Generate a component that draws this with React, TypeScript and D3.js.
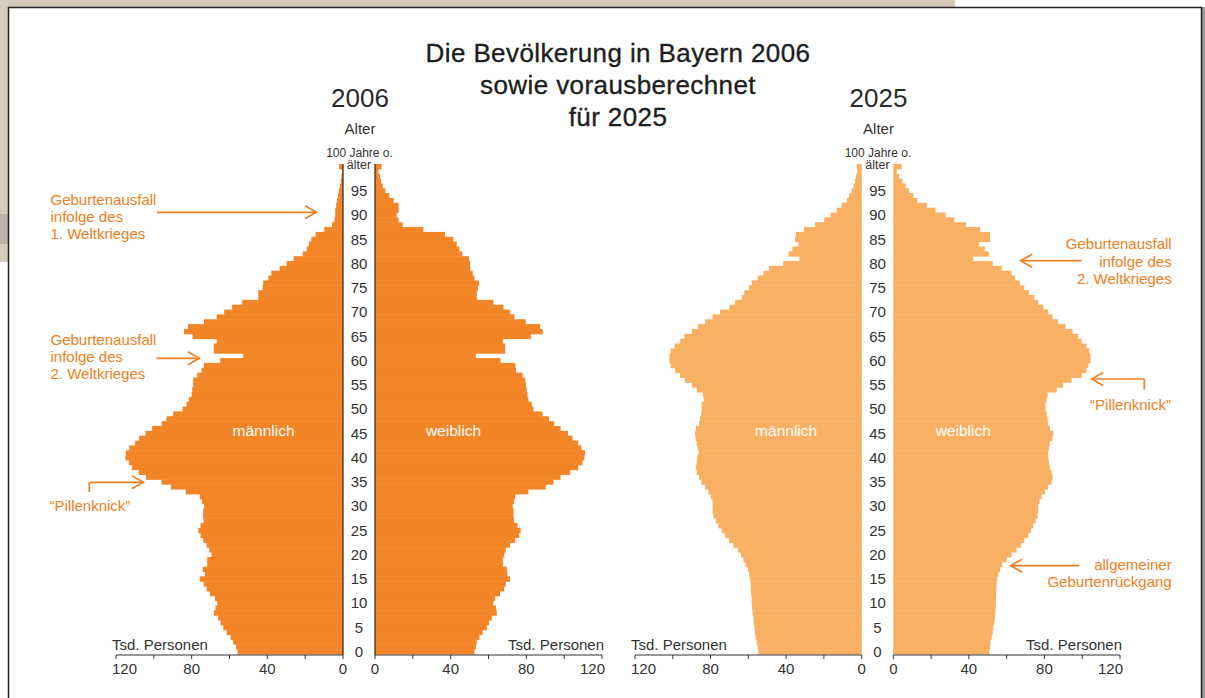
import React from 'react';
import * as d3 from 'd3';

// values in Tsd. Personen, index = age 0 .. 100 (100 = "100 Jahre o. älter")
const MALE_2006 = [
  55.7, 56.6, 58, 59.4, 61.5, 63.3, 64.7, 66, 68.3, 67.4,
  66.5, 67.7, 70.4, 72.1, 73.7, 75.7, 73, 74.2, 71.8, 71.8,
  69.5, 70.7, 72.1, 73.9, 75.3, 76.5, 75.3, 73.7, 73.9, 73.9,
  73.4, 74.6, 75.7, 83.1, 91, 95.9, 104.2, 108, 111.6, 113.2,
  115, 114.8, 113, 109.9, 107.8, 104.4, 100.9, 95.9, 93.3, 89.8,
  84.8, 82.7, 81.5, 80, 79.7, 79.2, 79.2, 77.1, 74.8, 73.5,
  64.9, 52.8, 68.3, 68.3, 66.8, 79.5, 84.1, 82, 73.5, 66.8,
  62.8, 58.6, 53.3, 44.8, 44.8, 42.5, 42.2, 39.5, 37.9, 33.5,
  29.8, 26.1, 21.3, 19.2, 18, 16.8, 14.5, 9.9, 5.8, 4.5,
  4.1, 4.1, 3.6, 3.2, 2.6, 2.2, 1.6, 1.2, 0.8, 0.5, 2,
];
const FEMALE_2006 = [
  52.6, 53.3, 53.8, 55.2, 56.9, 59.1, 60.3, 61.7, 64.4, 64,
  62.6, 63.5, 66.1, 68.3, 69.1, 71.4, 70, 69.7, 67.6, 67.6,
  68.3, 69.1, 71.4, 74.1, 76.2, 77, 75.3, 73.5, 73.2, 73.2,
  72.8, 73.5, 74.1, 81.1, 90.3, 94.4, 98.1, 103.2, 107.4, 109.7,
  110.7, 111, 109.2, 107.4, 104.4, 102, 98.1, 94.7, 92, 88.5,
  83.8, 82.9, 81.1, 80.6, 80.2, 79.9, 79.4, 78, 74.6, 74.2,
  66.3, 53.3, 68.8, 68.8, 67.6, 82.4, 88.7, 87.3, 79.7, 73.7,
  71.4, 67.9, 62.6, 53.8, 53.8, 54.5, 55, 52.6, 51.7, 50.3,
  50.3, 49.7, 46.2, 44.6, 43.2, 41.4, 37, 25.6, 14.6, 12.5,
  11.5, 12.5, 12.5, 9.9, 7.6, 5.5, 4.1, 3.2, 2.6, 1.8, 3.5,
];
const MALE_2025 = [
  54.7, 55, 55.6, 56.1, 56.5, 56.8, 57.2, 57.3, 57.7, 58,
  58.2, 58.2, 58.6, 58.7, 58.7, 59.1, 59.6, 60.3, 61.4, 62.6,
  63.9, 65.6, 67.9, 70.2, 72.3, 74.1, 75.9, 77.2, 78.5, 78.9,
  78.9, 79, 79.9, 81.2, 82.9, 85, 86.1, 87.3, 87.8, 87.3,
  87.1, 86.4, 86.8, 87.3, 87.8, 88.2, 87.8, 86.1, 85.6, 85,
  84.7, 84.7, 83.6, 84.1, 87.3, 89.9, 93.5, 96.1, 98.8, 101.1,
  101.8, 101.8, 101.1, 99.1, 96.1, 93.9, 89.9, 86.8, 82.9, 79,
  75, 70, 67, 63.5, 62.1, 59.6, 58.2, 55, 52, 49,
  41.5, 33, 38.8, 36.7, 33.5, 35.3, 34.9, 30.5, 24.7, 19.9,
  16.4, 13.2, 10.6, 7.9, 6.7, 5.3, 4.2, 3.5, 3, 2.3, 2.5,
];
const FEMALE_2025 = [
  50.8, 51.2, 51.5, 52, 52.6, 52.9, 53.4, 53.8, 54, 54.2,
  54.3, 54.4, 54.5, 54.6, 54.7, 55, 55.6, 56.5, 57.7, 60,
  62.6, 65.3, 67.6, 69.3, 71.4, 72.9, 74.1, 75.3, 76.4, 76.7,
  76.7, 77.3, 78.5, 80.3, 82, 83.8, 84.3, 83.8, 82.9, 82.4,
  82, 82, 82.4, 82.9, 84.3, 84.7, 82.9, 82, 81.7, 81.2,
  80.6, 80.6, 81.2, 81.7, 86.5, 89.9, 94.4, 99.7, 102.3, 103.2,
  104.4, 104.4, 103.7, 102.3, 99.7, 97.9, 94.9, 91.2, 87.3, 84.3,
  82, 79.4, 76.7, 74.6, 71.8, 69.3, 67, 64.4, 62.6, 57.4,
  52.6, 42.3, 50.6, 48.5, 45.3, 51.2, 51.2, 45.9, 38.5, 32.3,
  27.7, 22.4, 17.7, 12.7, 10.6, 8.3, 6.5, 4.8, 3, 1.8, 4.4,
];

const AGES = d3.range(0, 101);
const AGE_TICKS = d3.range(0, 100, 5);
const X_TICKS = [0, 20, 40, 60, 80, 100, 120];
const X_LABELS = [0, 40, 80, 120];
const TITLE = ['Die Bevölkerung in Bayern 2006', 'sowie vorausberechnet', 'für 2025'];

const FONT = '"Liberation Sans", Arial, Helvetica, sans-serif';
const ORANGE_TEXT = '#ef8023';
const DARK = '#2a2a2a';

const y = d3.scaleBand<number>().domain(AGES).range([654, 164]);
const AXIS_Y = 655;

type PanelProps = {
  year: string;
  male: number[];
  female: number[];
  maleRange: [number, number];
  femaleRange: [number, number];
  color: string;
  zeroLines: boolean;
  labelX: [number, number];
};

function Pyramid({ year, male, female, maleRange, femaleRange, color, zeroLines, labelX }: PanelProps) {
  const xm = d3.scaleLinear().domain([0, 120]).range(maleRange);
  const xf = d3.scaleLinear().domain([0, 120]).range(femaleRange);
  const cx = (xm(0) + xf(0)) / 2;
  const bw = y.bandwidth();

  const axis = (x: d3.ScaleLinear<number, number>, side: 'm' | 'f') => (
    <g>
      <line x1={x(0)} x2={x(120)} y1={AXIS_Y} y2={AXIS_Y} stroke="#333" strokeWidth={1.2} />
      {X_TICKS.map(t => (
        <line key={t} x1={x(t)} x2={x(t)} y1={AXIS_Y} y2={AXIS_Y + 4} stroke="#333" strokeWidth={1} />
      ))}
      {X_LABELS.map(t => {
        let anchor = 'middle';
        let dx = 0;
        if (t === 120) { anchor = side === 'm' ? 'start' : 'end'; dx = side === 'm' ? -4 : 3; }
        return (
          <text key={t} x={x(t) + dx} y={AXIS_Y + 19} textAnchor={anchor} fontSize={15} fill="#333">{t}</text>
        );
      })}
      <text
        x={side === 'm' ? x(120) - 4 : x(120) + 2}
        y={650}
        textAnchor={side === 'm' ? 'start' : 'end'}
        fontSize={15}
        fill="#333"
      >Tsd. Personen</text>
    </g>
  );

  return (
    <g fontFamily={FONT}>
      <text x={cx + 1} y={107.3} textAnchor="middle" fontSize={26} fill={DARK}>{year}</text>
      <text x={cx + 1} y={133.5} textAnchor="middle" fontSize={15} fill="#333">Alter</text>
      <text x={cx + 0.5} y={157} textAnchor="middle" fontSize={12} fill="#333">100 Jahre o.</text>
      <text x={cx} y={169} textAnchor="middle" fontSize={12.5} fill="#333">älter</text>

      {AGES.map(a => (
        <rect key={'m' + a} x={xm(male[a])} y={y(a)} width={xm(0) - xm(male[a])} height={bw + 0.5} fill={color} />
      ))}
      {AGES.map(a => (
        <rect key={'f' + a} x={xf(0)} y={y(a)} width={xf(female[a]) - xf(0)} height={bw + 0.5} fill={color} />
      ))}

      {zeroLines && (
        <g stroke="#333" strokeWidth={1.3}>
          <line x1={xm(0)} x2={xm(0)} y1={y(100)} y2={AXIS_Y} />
          <line x1={xf(0)} x2={xf(0)} y1={y(100)} y2={AXIS_Y} />
        </g>
      )}

      {AGE_TICKS.map(a => (
        <text key={a} x={cx} y={(y(a) as number) + bw / 2} dy="0.36em" textAnchor="middle" fontSize={15} fill="#333">{a}</text>
      ))}

      <text x={xm(labelX[0])} y={435.7} textAnchor="middle" fontSize={15.5} fill="#fff">männlich</text>
      <text x={xf(labelX[1])} y={435.7} textAnchor="middle" fontSize={15.5} fill="#fff">weiblich</text>

      {axis(xm, 'm')}
      {axis(xf, 'f')}
    </g>
  );
}

function Arrow({ x1, y1, x2, y2 }: { x1: number; y1: number; x2: number; y2: number }) {
  const dir = x2 > x1 ? 1 : -1;
  return (
    <g stroke={ORANGE_TEXT} strokeWidth={1.7} fill="none">
      <line x1={x1} y1={y1} x2={x2} y2={y2} />
      <polyline points={`${x2 - dir * 11.5},${y2 - 6.5} ${x2},${y2} ${x2 - dir * 11.5},${y2 + 6.5}`} />
    </g>
  );
}

function Note({ lines, x, y0, anchor }: { lines: string[]; x: number; y0: number; anchor: string }) {
  return (
    <text fontFamily={FONT} fontSize={15} fill={ORANGE_TEXT} textAnchor={anchor}>
      {lines.map((l, i) => (
        <tspan key={i} x={x} y={y0 + i * 17.2}>{l}</tspan>
      ))}
    </text>
  );
}

export default function App() {
  return (
    <svg width={1205} height={698} style={{ position: 'absolute', left: 0, top: 0, background: '#fff' }}>
      {/* scanned page around the panel */}
      <rect x={0} y={0} width={955} height={7} fill="#d3cab9" />
      <rect x={0} y={0} width={8} height={262} fill="#d6cdbd" />
      <rect x={0} y={214} width={8} height={30} fill="#b9b4aa" />
      <rect x={1202} y={7} width={3} height={691} fill="#9a9a9a" />
      <g stroke="#222" strokeWidth={1.5}>
        <line x1={8.5} x2={8.5} y1={7} y2={698} />
        <line x1={8} x2={1202} y1={7.5} y2={7.5} />
        <line x1={1201.5} x2={1201.5} y1={7} y2={698} />
      </g>

      <g fontFamily={FONT} fontSize={26} fill="#1e1e1e" textAnchor="middle" letterSpacing={0.4} stroke="#1e1e1e" strokeWidth={0.35}>
        {TITLE.map((t, i) => (
          <text key={t} x={618} y={61.7 + i * 32.2}>{t}</text>
        ))}
      </g>

      <Pyramid
        year="2006"
        male={MALE_2006}
        female={FEMALE_2006}
        maleRange={[343, 116]}
        femaleRange={[375, 602]}
        color="#f38526"
        zeroLines={true}
        labelX={[42, 41.5]}
      />
      <Pyramid
        year="2025"
        male={MALE_2025}
        female={FEMALE_2025}
        maleRange={[861.7, 635]}
        femaleRange={[893.3, 1120]}
        color="#fab062"
        zeroLines={false}
        labelX={[40, 37]}
      />

      {/* annotations */}
      <Note lines={['Geburtenausfall', 'infolge des', '1. Weltkrieges']} x={50.5} y0={205} anchor="start" />
      <Arrow x1={157} y1={212.3} x2={316.5} y2={212.3} />

      <Note lines={['Geburtenausfall', 'infolge des', '2. Weltkrieges']} x={50.5} y0={345} anchor="start" />
      <Arrow x1={156.5} y1={358.3} x2={199.3} y2={358.3} />

      <text x={49.5} y={510.7} fontFamily={FONT} fontSize={15} fill={ORANGE_TEXT}>“Pillenknick”</text>
      <g stroke={ORANGE_TEXT} strokeWidth={1.7} fill="none">
        <line x1={89.3} y1={492} x2={89.3} y2={482.3} />
      </g>
      <Arrow x1={89.3} y1={482.3} x2={143.3} y2={482.3} />

      <Note lines={['Geburtenausfall', 'infolge des', '2. Weltkrieges']} x={1171.7} y0={249.3} anchor="end" />
      <Arrow x1={1081.7} y1={260.7} x2={1020.7} y2={260.7} />

      <text x={1130.5} y={410} fontFamily={FONT} fontSize={15} fill={ORANGE_TEXT} textAnchor="middle">“Pillenknick”</text>
      <g stroke={ORANGE_TEXT} strokeWidth={1.7} fill="none">
        <line x1={1144.3} y1={379} x2={1144.3} y2={389.5} />
      </g>
      <Arrow x1={1144.3} y1={379} x2={1091.7} y2={379} />

      <Note lines={['allgemeiner', 'Geburtenrückgang']} x={1171.7} y0={570} anchor="end" />
      <Arrow x1={1079.3} y1={565.7} x2={1010.7} y2={565.7} />
    </svg>
  );
}
